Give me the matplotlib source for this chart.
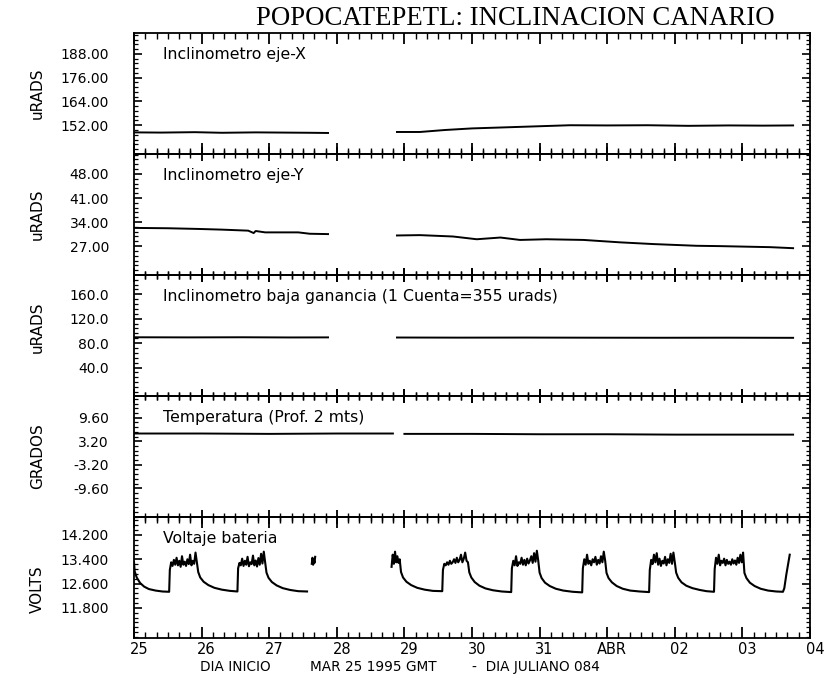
import numpy as np
import matplotlib.pyplot as plt
from matplotlib.ticker import MultipleLocator, FixedLocator, FormatStrFormatter
from matplotlib.transforms import ScaledTranslation

# time axis: days since 1995-03-25 00:00 GMT
day_labels = ['25', '26', '27', '28', '29', '30', '31', 'ABR', '02', '03', '04']

# ---- inclinometro eje-X (urads), two recording blocks
incx_t = [[0.0, 0.4, 0.9, 1.3, 1.8, 2.2, 2.6, 2.87],
          [3.89, 4.23, 4.6, 5.0, 5.46, 6.0, 6.45, 7.0, 7.6, 8.2, 8.8, 9.3, 9.75]]
incx_v = [[148.4, 148.3, 148.5, 148.2, 148.4, 148.3, 148.2, 148.1],
          [148.6, 148.6, 149.6, 150.4, 150.9, 151.5, 152.0, 151.9, 152.0, 151.7, 151.9, 151.8, 151.9]]

# ---- inclinometro eje-Y (urads)
incy_t = [[0.0, 0.5, 0.95, 1.3, 1.69, 1.77, 1.80, 1.94, 2.2, 2.43, 2.6, 2.87],
          [3.89, 4.23, 4.72, 5.07, 5.42, 5.71, 6.10, 6.65, 7.19, 7.68, 8.32, 8.67, 9.41, 9.75]]
incy_v = [[32.3, 32.2, 32.0, 31.8, 31.5, 30.8, 31.4, 31.0, 31.0, 31.0, 30.6, 30.5],
          [30.1, 30.2, 29.8, 29.0, 29.5, 28.8, 29.0, 28.8, 28.1, 27.6, 27.1, 27.0, 26.7, 26.4]]

# ---- inclinometro baja ganancia (urads)
incb_t = [[0.0, 0.8, 1.6, 2.3, 2.87], [3.89, 4.8, 5.8, 6.8, 7.8, 8.8, 9.75]]
incb_v = [[89.6, 89.4, 89.6, 89.3, 89.4], [89.2, 89.0, 89.1, 88.9, 88.8, 88.9, 88.7]]

# ---- temperatura (grados)
temp_t = [[0.0, 1.0, 2.0, 3.0, 3.83], [4.0, 5.0, 6.0, 7.0, 8.0, 9.0, 9.75]]
temp_v = [[5.3, 5.3, 5.2, 5.3, 5.3], [5.2, 5.2, 5.1, 5.1, 5.0, 5.0, 5.0]]

# ---- voltaje bateria (volts): night baseline pieces, day charging plateaus
night_t = [[0.00, 0.01, 0.04, 0.09, 0.15, 0.22, 0.32, 0.42, 0.52],
           [0.95, 0.98, 1.03, 1.10, 1.19, 1.30, 1.42, 1.53],
           [1.96, 1.99, 2.04, 2.11, 2.20, 2.31, 2.43, 2.56],
           [],
           [3.95, 3.98, 4.03, 4.10, 4.19, 4.30, 4.42, 4.56],
           [4.96, 4.99, 5.04, 5.11, 5.20, 5.31, 5.44, 5.58],
           [6.00, 6.03, 6.08, 6.15, 6.24, 6.35, 6.49, 6.63],
           [6.99, 7.02, 7.07, 7.14, 7.23, 7.34, 7.48, 7.62],
           [8.02, 8.05, 8.10, 8.17, 8.26, 8.37, 8.47, 8.58],
           [9.03, 9.06, 9.11, 9.18, 9.27, 9.38, 9.50, 9.60, 9.62, 9.65, 9.68, 9.70]]
night_v = [[13.30, 13.00, 12.80, 12.62, 12.50, 12.42, 12.37, 12.34, 12.33],
           [12.98, 12.80, 12.66, 12.55, 12.46, 12.40, 12.36, 12.34],
           [12.96, 12.79, 12.65, 12.54, 12.45, 12.39, 12.35, 12.34],
           [],
           [12.98, 12.80, 12.66, 12.55, 12.46, 12.40, 12.36, 12.35],
           [12.97, 12.80, 12.65, 12.53, 12.44, 12.38, 12.34, 12.32],
           [12.96, 12.78, 12.63, 12.52, 12.43, 12.37, 12.33, 12.31],
           [12.95, 12.78, 12.64, 12.52, 12.43, 12.37, 12.34, 12.32],
           [12.96, 12.79, 12.64, 12.53, 12.45, 12.39, 12.35, 12.33],
           [12.95, 12.78, 12.63, 12.52, 12.43, 12.37, 12.34, 12.33, 12.45, 12.90, 13.30, 13.55]]
day_start = [0.53, 1.54, 2.63, 3.81, 4.57, 5.59, 6.64, 7.63, 8.59]
day_end = [0.93, 1.94, 2.68, 3.93, 4.94, 5.98, 6.97, 8.00, 9.01]
day_v = [
    [13.05, 13.30, 13.18, 13.38, 13.22, 13.45, 13.20, 13.35, 13.15, 13.50, 13.22,
     13.32, 13.18, 13.40, 13.24, 13.55, 13.20, 13.35, 13.25, 13.62, 13.30],
    [13.10, 13.28, 13.20, 13.42, 13.18, 13.35, 13.22, 13.48, 13.17, 13.30, 13.24,
     13.52, 13.20, 13.36, 13.16, 13.44, 13.22, 13.58, 13.26, 13.65, 13.30],
    [13.25, 13.45, 13.22, 13.40, 13.28, 13.48],
    [13.15, 13.55, 13.25, 13.65, 13.30, 13.50, 13.28, 13.40],
    [13.05, 13.25, 13.20, 13.30, 13.22, 13.35, 13.25, 13.30, 13.40, 13.28, 13.45,
     13.30, 13.38, 13.55, 13.30, 13.42, 13.62, 13.35, 13.30],
    [13.10, 13.35, 13.20, 13.50, 13.18, 13.30, 13.25, 13.45, 13.22, 13.38, 13.20,
     13.42, 13.26, 13.36, 13.50, 13.28, 13.60, 13.32, 13.68, 13.35],
    [13.10, 13.40, 13.22, 13.55, 13.25, 13.35, 13.20, 13.40, 13.30, 13.48, 13.22,
     13.38, 13.26, 13.50, 13.30, 13.65, 13.35],
    [13.05, 13.38, 13.24, 13.55, 13.30, 13.60, 13.22, 13.42, 13.18, 13.35, 13.26,
     13.48, 13.20, 13.40, 13.28, 13.58, 13.25, 13.62, 13.30],
    [13.08, 13.45, 13.25, 13.55, 13.20, 13.35, 13.28, 13.42, 13.20, 13.38, 13.25,
     13.32, 13.22, 13.40, 13.26, 13.36, 13.22, 13.45, 13.28, 13.55, 13.30, 13.62],
]
# recording blocks of the voltage record (indexes of day plateaus)
volt_blocks = [[0, 1], [2], [3, 4, 5, 6, 7, 8]]

panel_text = ['Inclinometro eje-X', 'Inclinometro eje-Y',
              'Inclinometro baja ganancia (1 Cuenta=355 urads)',
              'Temperatura (Prof. 2 mts)', 'Voltaje bateria']
panel_units = ['uRADS', 'uRADS', 'uRADS', 'GRADOS', 'VOLTS']
panel_ticks = [[152, 164, 176, 188], [27, 34, 41, 48], [40, 80, 120, 160],
               [-9.6, -3.2, 3.2, 9.6], [11.8, 12.6, 13.4, 14.2]]
panel_fmt = ['%.2f', '%.2f', '%.1f', '%.2f', '%.3f']
panel_ylim = [(137.5, 198.5), (18.6, 53.8), (-6.7, 191.7), (-17.4, 15.5), (10.81, 14.79)]
unit_ypos = [0.5, 0.5, 0.57, 0.5, 0.40]

fig = plt.figure(figsize=(8.36, 6.84), dpi=100)
axes = fig.subplots(5, 1, sharex=True)
fig.subplots_adjust(left=134 / 836, right=810 / 836, top=1 - 33 / 684,
                    bottom=1 - 638 / 684, hspace=0)

lw = 1.4
for ax, t, v in zip(axes[:4], [incx_t, incy_t, incb_t, temp_t], [incx_v, incy_v, incb_v, temp_v]):
    for tt, vv in zip(t, v):
        ax.plot(tt, vv, color='black', lw=lw)

# voltage: stitch night pieces and day plateaus inside each block
for block in volt_blocks:
    ts, vs = [], []
    if block[0] == 0:
        ts += night_t[0]
        vs += night_v[0]
    for i in block:
        vals = day_v[i]
        ts += list(np.linspace(day_start[i], day_end[i], len(vals)))
        vs += vals
        ts += night_t[i + 1]
        vs += night_v[i + 1]
    axes[4].plot(ts, vs, color='black', lw=1.5)

for k, ax in enumerate(axes):
    ax.patch.set_visible(False)
    ax.set_xlim(0, 10)
    ax.set_ylim(*panel_ylim[k])
    for s in ax.spines.values():
        s.set_linewidth(1.3)
    ax.xaxis.set_major_locator(MultipleLocator(1))
    ax.xaxis.set_minor_locator(MultipleLocator(1 / 6))
    d = 'inout' if 0 < k < 4 else 'in'
    ax.tick_params(axis='x', which='both', top=True, bottom=True, direction=d)
    ax.tick_params(axis='x', which='major', length=10 if d == 'inout' else 8, width=1.3)
    ax.tick_params(axis='x', which='minor', length=6 if d == 'inout' else 4, width=1.0)

    ticks = panel_ticks[k]
    step = (ticks[1] - ticks[0]) / 5
    lo, hi = panel_ylim[k]
    minor = np.arange(ticks[0] - 10 * step, hi, step)
    ax.yaxis.set_major_locator(FixedLocator(ticks))
    ax.yaxis.set_minor_locator(FixedLocator(minor[minor > lo]))
    ax.yaxis.set_major_formatter(FormatStrFormatter(panel_fmt[k]))
    ax.tick_params(axis='y', which='both', left=True, right=True, direction='in',
                   labelsize=10, pad=18)
    ax.tick_params(axis='y', which='major', length=6, width=1.2)
    ax.tick_params(axis='y', which='minor', length=3, width=0.9)

    ax.set_ylabel(panel_units[k], fontsize=11)
    ax.yaxis.set_label_coords(-0.132, unit_ypos[k])
    ax.text(0.043, 0.82, panel_text[k], transform=ax.transAxes, fontsize=11.3,
            ha='left', va='center')

axes[4].set_xticks(range(11))
axes[4].set_xticklabels(day_labels, fontsize=10.5)
axes[4].tick_params(axis='x', which='major', pad=3)
shift = ScaledTranslation(5 / 100, 0, fig.dpi_scale_trans)
for lab in axes[4].get_xticklabels():
    lab.set_transform(lab.get_transform() + shift)

fig.text(0.617, 0.973, 'POPOCATEPETL: INCLINACION CANARIO', ha='center', va='center',
         fontsize=19.3, family='Liberation Serif')
yb = 1 - 667 / 684
fig.text(200 / 836, yb, 'DIA INICIO', fontsize=9.8, ha='left', va='center')
fig.text(310 / 836, yb, 'MAR 25 1995 GMT', fontsize=9.8, ha='left', va='center')
fig.text(472 / 836, yb, '-  DIA JULIANO 084', fontsize=9.8, ha='left', va='center')

fig.savefig('out.png', dpi=100)
